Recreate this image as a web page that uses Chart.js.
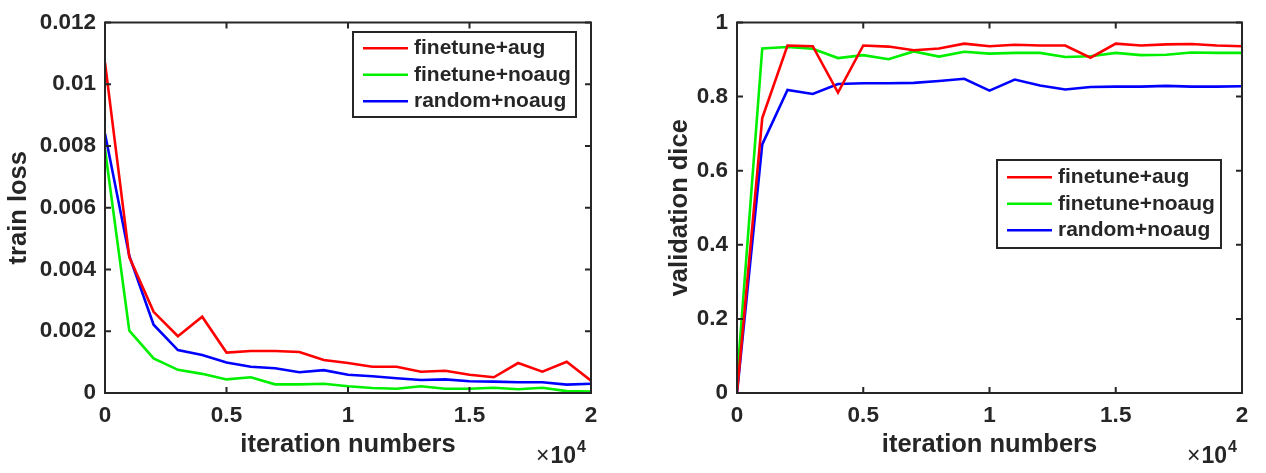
<!DOCTYPE html>
<html lang="en">
<head>
<meta charset="UTF-8">
<title>train loss / validation dice</title>
<script src="https://cdn.jsdelivr.net/npm/chart.js"></script>
<style>
  body { margin: 0; background: #fff; }
  .wrap { position: absolute; top: 0; width: 633px; height: 473px; }
  #left { left: 0; }
  #right { left: 633px; }
</style>
</head>
<body>
<div class="wrap" id="left"><canvas id="lossChart" width="633" height="473"></canvas></div>
<div class="wrap" id="right"><canvas id="diceChart" width="633" height="473"></canvas></div>

<script>
// iteration numbers (x axis)
const iterations = [0, 1000, 2000, 3000, 4000, 5000, 6000, 7000, 8000, 9000, 10000,
  11000, 12000, 13000, 14000, 15000, 16000, 17000, 18000, 19000, 20000];

const seriesNames = ['finetune+aug', 'finetune+noaug', 'random+noaug'];
const seriesColors = ['#ff0000', '#00f000', '#0000ff'];

// train loss
const lossAug = [0.0107, 0.0044, 0.00263, 0.00184, 0.00247, 0.00131, 0.00136, 0.00136, 0.00133, 0.00107, 0.00097,
  0.00085, 0.00085, 0.00069, 0.00072, 0.00059, 0.00051, 0.00097, 0.00069, 0.00101, 0.0004];
const lossNoaug = [0.0079, 0.00202, 0.00112, 0.00075, 0.00062, 0.00044, 0.00051, 0.00028, 0.00028, 0.0003, 0.00022,
  0.00016, 0.00014, 0.00022, 0.00014, 0.00014, 0.00017, 0.00012, 0.00017, 0.00006, 0.00005];
const lossRandom = [0.0084, 0.00444, 0.00221, 0.00139, 0.00123, 0.00099, 0.00085, 0.0008, 0.00067, 0.00074, 0.00059,
  0.00054, 0.00048, 0.00042, 0.00044, 0.00038, 0.00037, 0.00035, 0.00035, 0.00027, 0.0003];

// validation dice
const diceAug = [0, 0.742, 0.938, 0.936, 0.811, 0.938, 0.935, 0.925, 0.930, 0.943, 0.936,
  0.940, 0.938, 0.938, 0.905, 0.943, 0.938, 0.941, 0.942, 0.938, 0.936];
const diceNoaug = [0.034, 0.930, 0.934, 0.929, 0.904, 0.912, 0.901, 0.922, 0.908, 0.921, 0.916,
  0.918, 0.918, 0.907, 0.909, 0.918, 0.912, 0.913, 0.919, 0.918, 0.918];
const diceRandom = [0, 0.671, 0.818, 0.807, 0.834, 0.836, 0.836, 0.837, 0.842, 0.848, 0.816,
  0.846, 0.830, 0.819, 0.826, 0.827, 0.827, 0.829, 0.827, 0.827, 0.828];

const xTicks = [0, 5000, 10000, 15000, 20000];

const FONT = '"Liberation Sans", Arial, sans-serif';
const INK = '#262626';
Chart.defaults.font.family = FONT;
Chart.defaults.font.weight = 'bold';
Chart.defaults.color = INK;

// box around the axes, inward ticks, the x10^4 note and the legend
const matlabFrame = {
  id: 'matlabFrame',
  afterDatasetsDraw(chart, args, opts) {
    const { ctx, chartArea: a, scales: { x, y } } = chart;
    ctx.save();
    ctx.strokeStyle = INK;
    ctx.lineWidth = 2;
    ctx.strokeRect(a.left, a.top, a.right - a.left, a.bottom - a.top);
    ctx.beginPath();
    x.ticks.forEach(t => {
      const px = x.getPixelForValue(t.value);
      ctx.moveTo(px, a.bottom); ctx.lineTo(px, a.bottom - 6);
      ctx.moveTo(px, a.top); ctx.lineTo(px, a.top + 6);
    });
    y.ticks.forEach(t => {
      const py = y.getPixelForValue(t.value);
      ctx.moveTo(a.left, py); ctx.lineTo(a.left + 6, py);
      ctx.moveTo(a.right, py); ctx.lineTo(a.right - 6, py);
    });
    ctx.stroke();

    // x10^4
    ctx.fillStyle = INK;
    ctx.textBaseline = 'alphabetic';
    ctx.textAlign = 'left';
    ctx.font = '23px ' + FONT;
    const timesW = ctx.measureText('\u00d7').width;
    ctx.font = 'bold 23px ' + FONT;
    const tenW = ctx.measureText('10').width;
    ctx.font = 'bold 16px ' + FONT;
    const supW = ctx.measureText('4').width;
    const startX = a.right - 5 - (timesW + 1 + tenW + 1 + supW);
    ctx.font = '23px ' + FONT;
    ctx.fillText('\u00d7', startX, 463);
    ctx.font = 'bold 23px ' + FONT;
    ctx.fillText('10', startX + timesW + 1, 463);
    ctx.font = 'bold 16px ' + FONT;
    ctx.fillText('4', startX + timesW + tenW + 2, 452);

    // legend
    const L = opts.legend;
    ctx.fillStyle = '#fff';
    ctx.fillRect(L.left, L.top, L.width, L.height);
    ctx.lineWidth = 2;
    ctx.strokeStyle = INK;
    ctx.strokeRect(L.left, L.top, L.width, L.height);
    ctx.font = 'bold 21px ' + FONT;
    ctx.textBaseline = 'middle';
    chart.data.datasets.forEach((ds, i) => {
      const cy = L.top + L.pad + i * L.row + L.row / 2;
      ctx.strokeStyle = ds.borderColor;
      ctx.lineWidth = 2.5;
      ctx.beginPath();
      ctx.moveTo(L.left + 10, cy);
      ctx.lineTo(L.left + 55, cy);
      ctx.stroke();
      ctx.fillStyle = INK;
      ctx.fillText(ds.label, L.left + 61, cy);
    });
    ctx.restore();
  }
};

function makeDatasets(list) {
  return list.map((vals, i) => ({
    label: seriesNames[i],
    data: vals,
    borderColor: seriesColors[i],
    backgroundColor: seriesColors[i],
    borderWidth: 2.6,
    pointRadius: 0,
    tension: 0
  }));
}

function makeChart(canvasId, datasets, cfg) {
  return new Chart(document.getElementById(canvasId), {
    type: 'line',
    data: { labels: iterations, datasets: datasets },
    options: {
      responsive: false,
      animation: false,
      layout: { padding: { top: 16, right: cfg.rightPad, left: 0, bottom: 0 } },
      plugins: {
        legend: { display: false },
        tooltip: { enabled: false },
        matlabFrame: { legend: cfg.legend }
      },
      scales: {
        x: {
          type: 'linear',
          min: 0,
          max: 20000,
          afterBuildTicks: s => { s.ticks = xTicks.map(v => ({ value: v })); },
          afterFit: s => { s.height = 80; },
          grid: { display: false, drawTicks: false },
          border: { display: false },
          ticks: {
            padding: 9,
            font: { size: 22.5, weight: 'bold' },
            maxRotation: 0,
            callback: v => String(v / 10000)
          },
          title: {
            display: true,
            text: 'iteration numbers',
            font: { size: 25.5, weight: 'bold' },
            padding: { top: 0, bottom: 13 }
          }
        },
        y: {
          min: 0,
          max: cfg.yMax,
          afterBuildTicks: s => { s.ticks = cfg.yTicks.map(v => ({ value: v })); },
          afterFit: s => { s.width = cfg.yWidth; },
          grid: { display: false, drawTicks: false },
          border: { display: false },
          ticks: {
            padding: 9,
            font: { size: 22.5, weight: 'bold' },
            callback: v => String(parseFloat(v.toFixed(4)))
          },
          title: {
            display: true,
            text: cfg.yTitle,
            font: { size: 25.5, weight: 'bold' },
            padding: { top: cfg.titlePad, bottom: 0 }
          }
        }
      }
    },
    plugins: [matlabFrame]
  });
}

makeChart('lossChart', makeDatasets([lossAug, lossNoaug, lossRandom]), {
  yMax: 0.012,
  yTicks: [0, 0.002, 0.004, 0.006, 0.008, 0.01, 0.012],
  yTitle: 'train loss',
  yWidth: 105,
  titlePad: 4,
  rightPad: 42,
  legend: { left: 353, top: 32, width: 223, height: 85, pad: 3, row: 26.5 }
});

makeChart('diceChart', makeDatasets([diceAug, diceNoaug, diceRandom]), {
  yMax: 1,
  yTicks: [0, 0.2, 0.4, 0.6, 0.8, 1],
  yTitle: 'validation dice',
  yWidth: 104,
  titlePad: 32,
  rightPad: 24,
  legend: { left: 364, top: 160, width: 224, height: 88, pad: 4, row: 26.5 }
});
</script>
</body>
</html>
